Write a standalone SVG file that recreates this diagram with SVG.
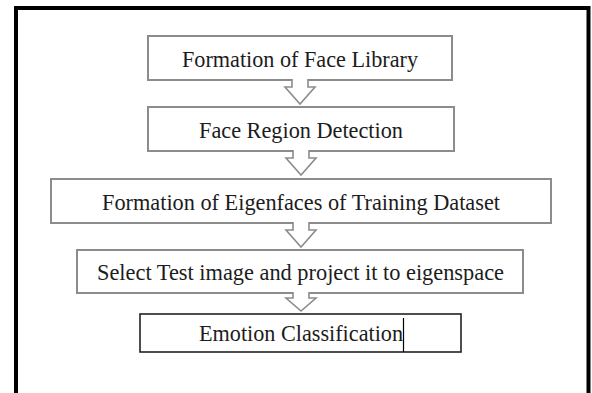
<svg xmlns="http://www.w3.org/2000/svg" width="592" height="393" viewBox="0 0 592 393">
<style>
.box{fill:#fff;stroke:#8c8c8c;stroke-width:2}
.dark{fill:#fff;stroke:#222;stroke-width:1.6}
.lbl{font-family:"Liberation Serif","Times New Roman",serif;font-size:24px;fill:#1c1c1c;text-anchor:middle;dominant-baseline:central}
.arr{fill:#fff;stroke:#8c8c8c;stroke-width:1.6;stroke-linejoin:miter}
</style>
<rect x="0" y="0" width="592" height="393" fill="#fff"/>
<path d="M16,400 V8 H588.5 V400" fill="none" stroke="#000" stroke-width="4"/>
<g id="n1"><rect class="box" x="148" y="36" width="304" height="44"/><text class="lbl" x="300" y="59" textLength="236" lengthAdjust="spacingAndGlyphs">Formation of Face Library</text></g>
<g id="n2"><rect class="box" x="148" y="107" width="306" height="44"/><text class="lbl" x="301" y="130" textLength="204" lengthAdjust="spacingAndGlyphs">Face Region Detection</text></g>
<g id="n3"><rect class="box" x="51" y="179" width="500" height="44"/><text class="lbl" x="301" y="202" textLength="398" lengthAdjust="spacingAndGlyphs">Formation of Eigenfaces of Training Dataset</text></g>
<g id="n4"><rect class="box" x="77" y="250" width="446" height="43"/><text class="lbl" x="300.5" y="272" textLength="407" lengthAdjust="spacingAndGlyphs">Select Test image and project it to eigenspace</text></g>
<g id="n5"><rect class="dark" x="140" y="314" width="321" height="38"/><text class="lbl" x="301" y="333" textLength="204" lengthAdjust="spacingAndGlyphs">Emotion Classification</text><line x1="403.5" y1="318" x2="403.5" y2="352" stroke="#000" stroke-width="1.2"/></g>
<g id="connectors">
<path class="arr" d="M292,79 V87 H285 L300,104 L315,87 H308 V79"/>
<path class="arr" d="M293,150 V158 H286 L301,175 L316,158 H309 V150"/>
<path class="arr" d="M293,222 V230 H286 L301,247 L316,230 H309 V222"/>
<path class="arr" d="M293,292 V298 H286 L301,311 L316,298 H309 V292"/>
</g>
</svg>
